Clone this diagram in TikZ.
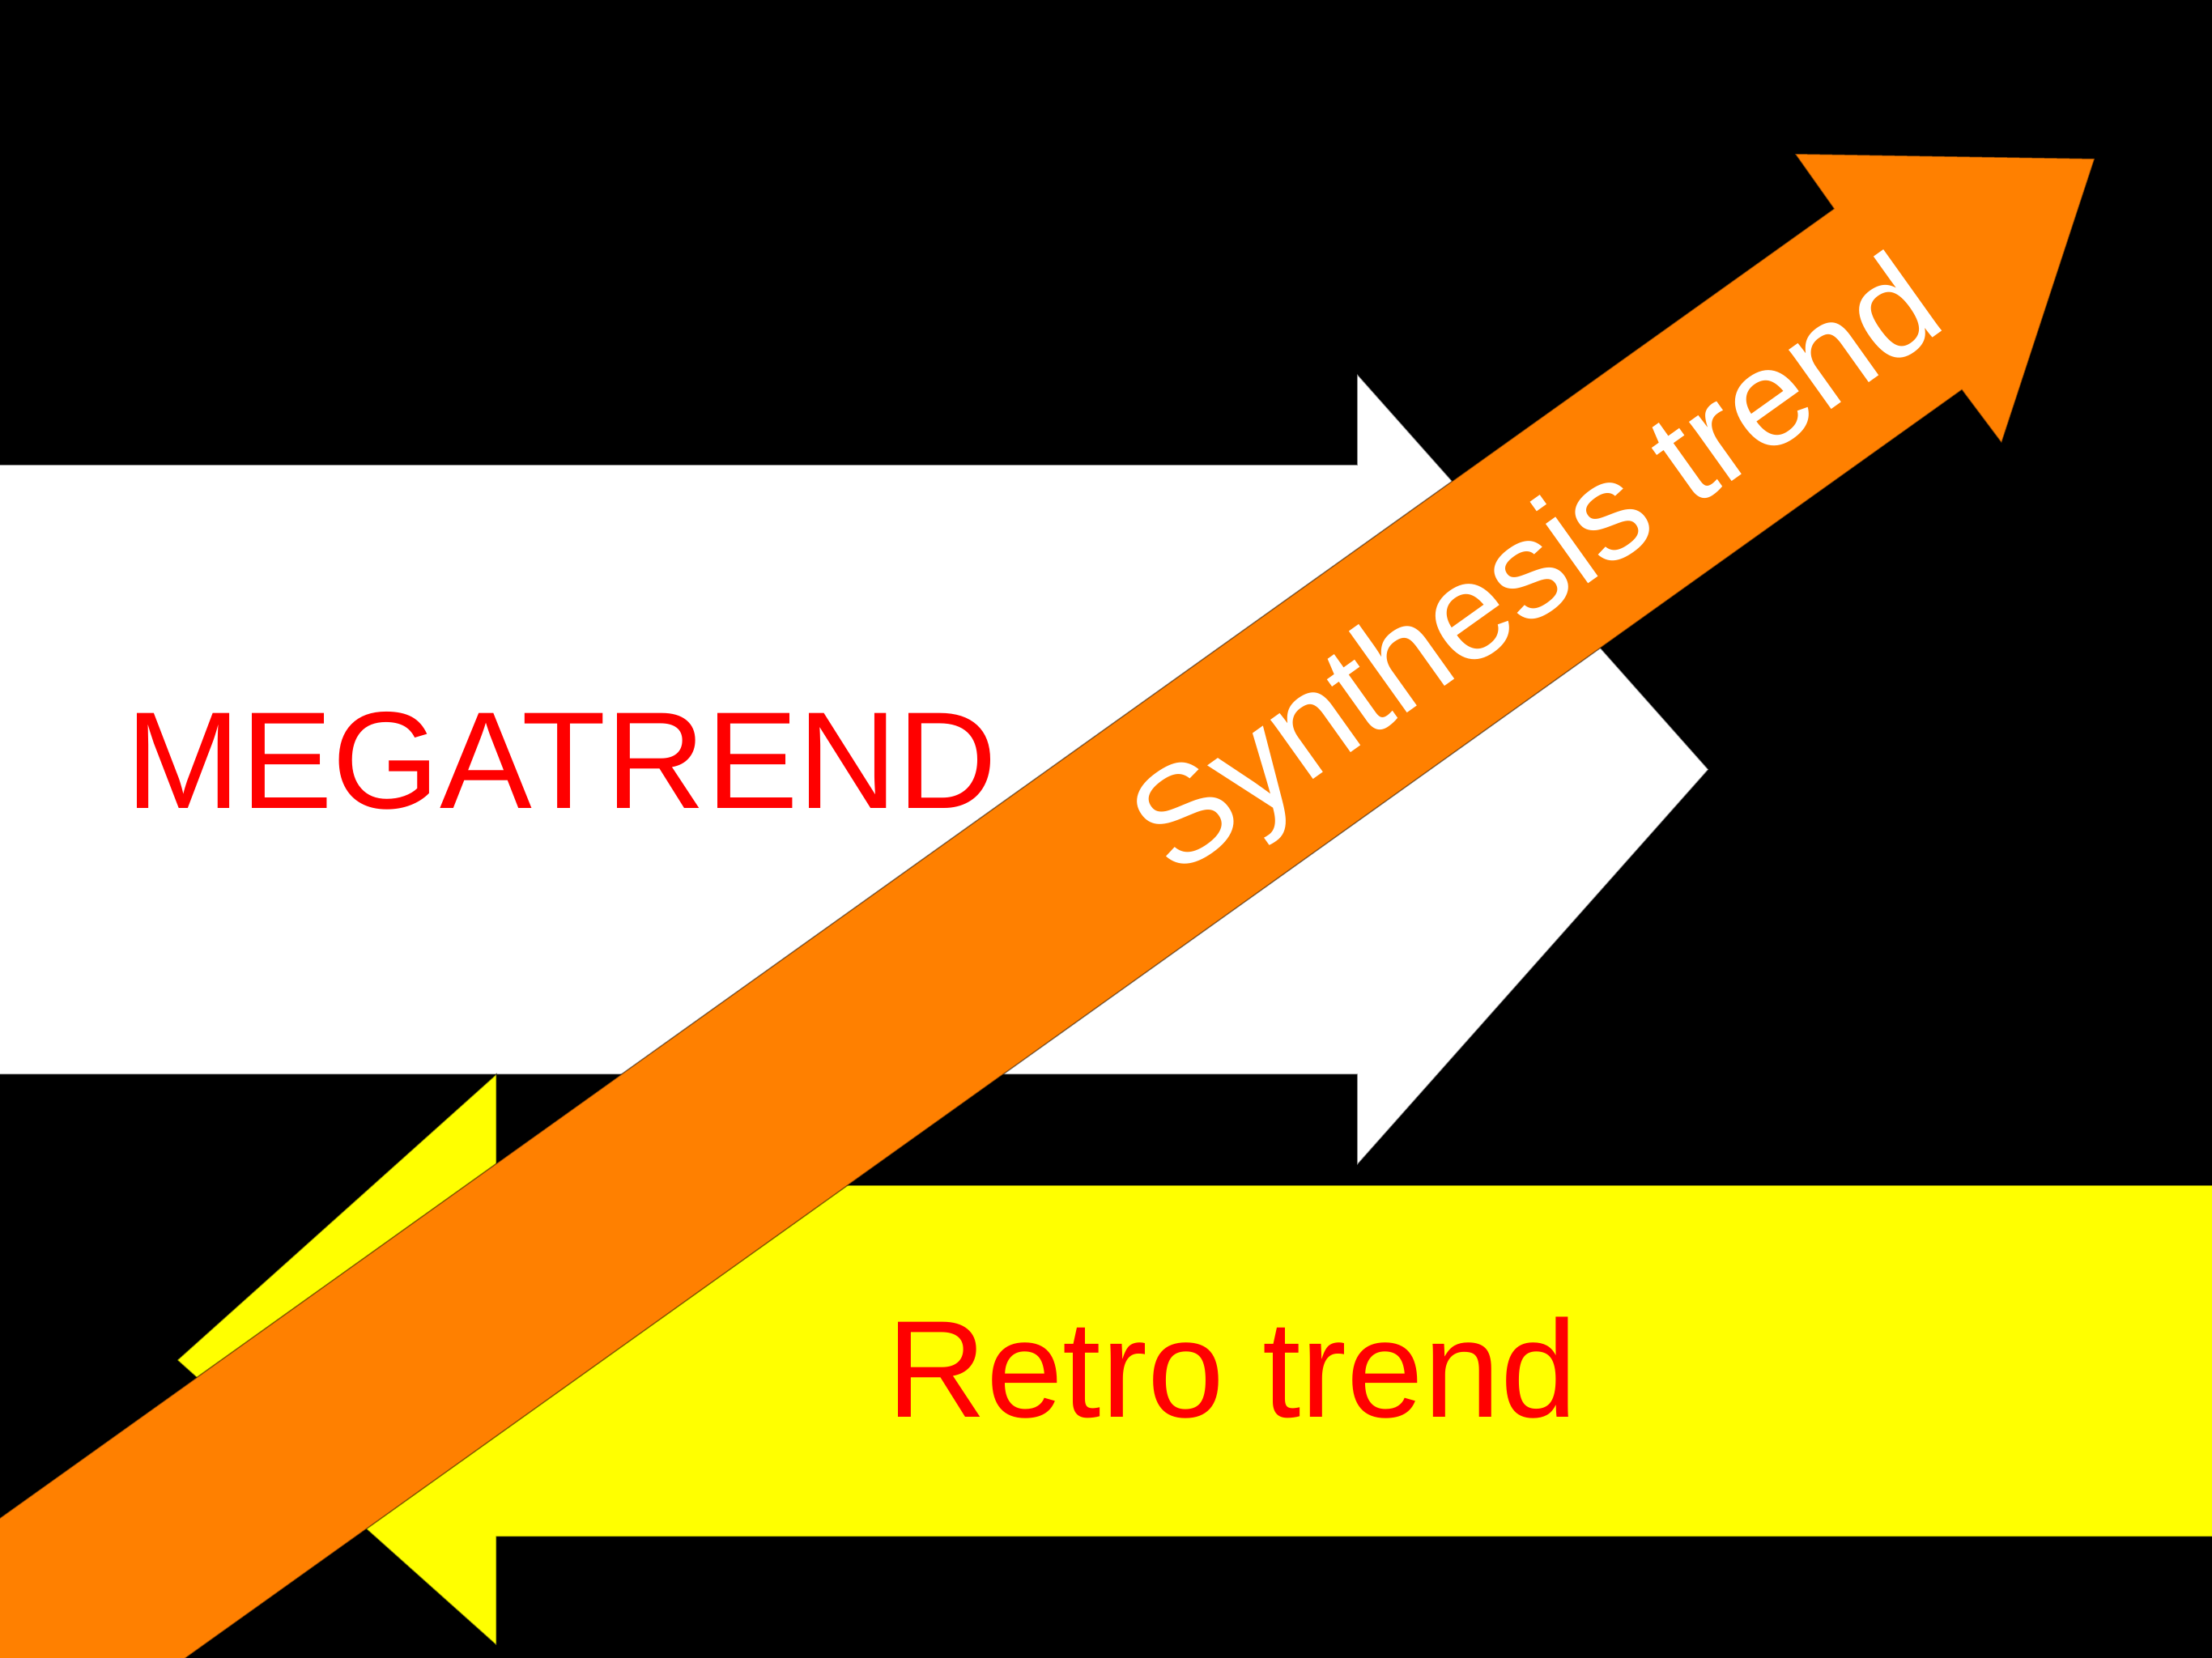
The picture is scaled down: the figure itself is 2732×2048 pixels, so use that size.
\documentclass[tikz,border=0pt]{standalone}
\usepackage{fontspec}
\setmainfont{Liberation Sans}
\definecolor{orng}{RGB}{255,128,0}
\definecolor{yel}{RGB}{255,255,0}
\definecolor{redtxt}{RGB}{255,0,0}
\begin{document}
\begin{tikzpicture}[x=0.01cm,y=-0.01cm,
  shapeline/.style={draw=black,draw opacity=0.45,line width=0.015cm},
  bigtext/.style={inner sep=0pt,outer sep=0pt,font=\fontsize{48.5pt}{58pt}\selectfont}]
\useasboundingbox (0,0) rectangle (2732,2048);
\fill[black] (0,0) rectangle (2732,2048);
\begin{scope}
\clip (0,0) rectangle (2732,2048);
% white arrow (MEGATREND)
\filldraw[fill=white,shapeline] (-10,574) -- (1676,574) -- (1676,462) -- (2110,950.5) -- (1676,1439) -- (1676,1327) -- (-10,1327) -- cycle;
% yellow arrow (Retro trend)
\filldraw[fill=yel,shapeline] (2745,1464) -- (613,1464) -- (613,1327) -- (219,1680) -- (613,2032) -- (613,1898) -- (2745,1898) -- cycle;
% orange arrow (Synthesis trend)
\filldraw[fill=orng,shapeline] (-400,2160.6) -- (2265,257.8) -- (2217,190) -- (2587,196) -- (2472,547) -- (2423,481.6) -- (-200,2354.4) -- cycle;
\end{scope}
\node[bigtext,text=redtxt,anchor=base west] (mega) at (155,998) {MEGATREND};
\node[bigtext,text=redtxt,anchor=base west] (retro) at (1095,1750) {Retro trend};
\node[bigtext,text=white,rotate=35.5,anchor=base] (synth) at (1929,744) {Synthesis trend};
\end{tikzpicture}
\end{document}
